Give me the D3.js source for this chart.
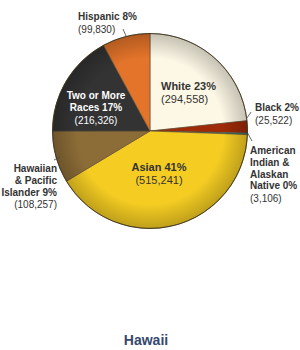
<!DOCTYPE html>
<html>
<head>
<meta charset="utf-8">
<script src="https://cdn.jsdelivr.net/npm/d3@7"></script>
<style>
  body { margin: 0; background: #fff; }
  text { font-family: "Liberation Sans", Arial, sans-serif; }
</style>
</head>
<body>
<div id="stage"></div>
<script>
// data, clockwise from 12 o'clock
var categories = ['White', 'Black', 'American Indian & Alaskan Native', 'Asian', 'Hawaiian & Pacific Islander', 'Two or More Races', 'Hispanic'];
var values = [294558, 25522, 3106, 515241, 108257, 216326, 99830];
var percents = ['23%', '2%', '0%', '41%', '9%', '17%', '8%'];
var colors = ['#fdf8e6', '#9e2a08', '#2b8a8c', '#f5cd22', '#8c6c37', '#333333', '#e4742a'];
var title = 'Hawaii';

// label layout: lines of bold name, then the value in brackets
var label_lines = [
    ['White ' + percents[0]],
    ['Black ' + percents[1]],
    ['American', 'Indian &', 'Alaskan', 'Native ' + percents[2]],
    ['Asian ' + percents[3]],
    ['Hawaiian', '& Pacific', 'Islander ' + percents[4]],
    ['Two or More', 'Races ' + percents[5]],
    ['Hispanic ' + percents[6]]
];
var label_pos = [
    {x: 161, y: 90, anchor: 'start', fill: '#333', size: 11},
    {x: 255, y: 111, anchor: 'start', fill: '#333', size: 10},
    {x: 250, y: 154, anchor: 'start', fill: '#333', size: 10},
    {x: 159, y: 171, anchor: 'middle', fill: '#333', size: 11},
    {x: 57, y: 172, anchor: 'end', fill: '#333', size: 10},
    {x: 96, y: 99, anchor: 'middle', fill: '#fff', size: 10},
    {x: 78, y: 20, anchor: 'start', fill: '#333', size: 10}
];
var leaders = [null, [[247, 118], [251, 112]], [[247, 132], [252, 141]], null, [[54, 160], [60, 157]], null, [[126, 36], [123, 29]]];

var width = 300, height = 350;
var cx = 150, cy = 131, radius = 97.5;
var fmt = d3.format(',');

var svg = d3.select('#stage').append('svg')
    .attr('width', width)
    .attr('height', height);

var defs = svg.append('defs');
var grad = defs.append('radialGradient').attr('id', 'shade');
grad.append('stop').attr('offset', '0%').attr('stop-color', '#000').attr('stop-opacity', 0);
grad.append('stop').attr('offset', '75%').attr('stop-color', '#000').attr('stop-opacity', 0);
grad.append('stop').attr('offset', '100%').attr('stop-color', '#000').attr('stop-opacity', 0.22);

var pie = d3.pie().sort(null).value(function (d) { return d; });
var arc = d3.arc().innerRadius(0).outerRadius(radius);
var arcs = pie(values);

var g = svg.append('g').attr('transform', 'translate(' + cx + ',' + cy + ')');
g.selectAll('path.slice')
    .data(arcs)
    .enter()
    .append('path')
    .attr('class', 'slice')
    .attr('d', arc)
    .attr('fill', function (d, i) { return colors[i]; })
    .attr('stroke', '#5a4a30')
    .attr('stroke-width', 0.6);

g.append('circle')
    .attr('r', radius)
    .attr('fill', 'url(#shade)')
    .attr('stroke', '#3a2e1a')
    .attr('stroke-width', 0.8);

// leader lines
svg.selectAll('line.leader')
    .data(leaders.filter(function (d) { return d; }))
    .enter()
    .append('line')
    .attr('class', 'leader')
    .attr('x1', function (d) { return d[0][0]; })
    .attr('y1', function (d) { return d[0][1]; })
    .attr('x2', function (d) { return d[1][0]; })
    .attr('y2', function (d) { return d[1][1]; })
    .attr('stroke', '#444')
    .attr('stroke-width', 0.8);

// labels
var line_h = 11.8;
categories.forEach(function (c, i) {
    var p = label_pos[i];
    var t = svg.append('text')
        .attr('x', p.x)
        .attr('y', p.y)
        .attr('text-anchor', p.anchor)
        .attr('fill', p.fill)
        .style('font-size', p.size + 'px');
    label_lines[i].forEach(function (line, j) {
        t.append('tspan')
            .attr('x', p.x)
            .attr('y', p.y + j * line_h)
            .style('font-weight', 'bold')
            .text(line);
    });
    t.append('tspan')
        .attr('x', p.x)
        .attr('y', p.y + label_lines[i].length * line_h + 1)
        .style('font-weight', 'normal')
        .text('(' + fmt(values[i]) + ')');
});

svg.append('text')
    .attr('x', 146)
    .attr('y', 345)
    .attr('text-anchor', 'middle')
    .attr('fill', '#34486e')
    .style('font-size', '14px')
    .style('font-weight', 'bold')
    .text(title);
</script>
</body>
</html>
